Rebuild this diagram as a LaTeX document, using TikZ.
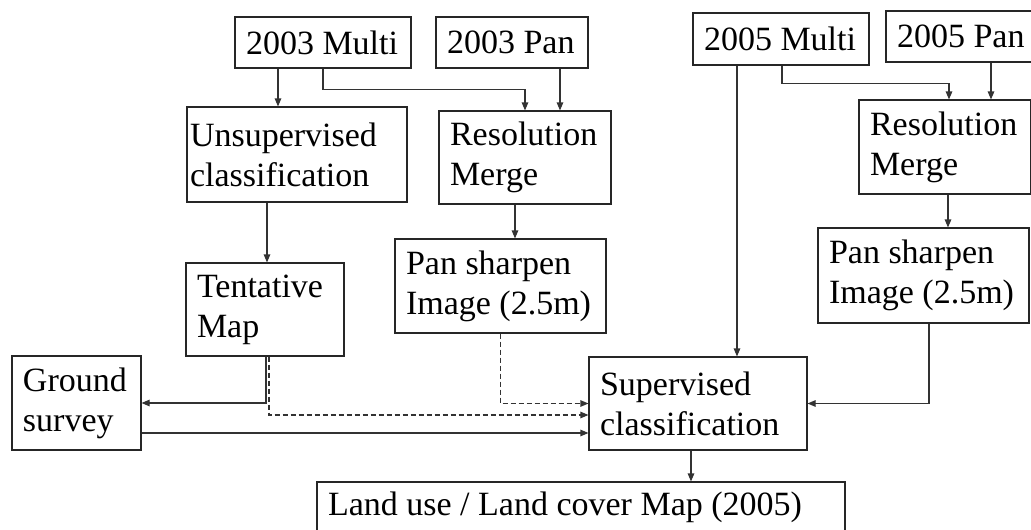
\documentclass[tikz,border=0pt]{standalone}
\usepackage{fontspec}
\setmainfont{Liberation Serif}
\usetikzlibrary{arrows.meta}
\begin{document}
\begin{tikzpicture}[x=1pt,y=-1pt,
  box/.style={draw=black!85, line width=1.1pt, inner xsep=11pt, inner ysep=0pt,
    align=flush left, font=\fontsize{34}{40}\selectfont, anchor=center},
  arr/.style={draw=black!80, line width=1.1pt, -{Triangle[length=8pt,width=6.5pt]}},
  dsh/.style={dash pattern=on 5pt off 3pt}]
\useasboundingbox (0,0) rectangle (1031,530);
\clip (0,0) rectangle (1031,530);
\fill[white] (0,0) rectangle (1031,530);
% nodes
\node[box, minimum width=176pt, minimum height=51pt, text width=154pt] (m03) at (323,42.5) {2003 Multi};
\node[box, minimum width=152pt, minimum height=51pt, text width=130pt] (p03) at (512,42.5) {2003 Pan};
\node[box, inner xsep=3pt, minimum width=220pt, minimum height=95pt, text width=214pt] (uns) at (297,154.5) {Unsupervised\\classification};
\node[box, minimum width=172pt, minimum height=93pt, text width=150pt] (rm03) at (525,157.5) {Resolution\\Merge};
\node[box, minimum width=211pt, minimum height=94pt, text width=189pt] (ps03) at (500.5,286) {Pan sharpen\\Image (2.5m)};
\node[box, minimum width=158pt, minimum height=93pt, text width=136pt] (tent) at (265,309.5) {Tentative\\Map};
\node[box, minimum width=129pt, minimum height=94pt, text width=107pt] (gs) at (76.5,403) {Ground\\survey};
\node[box, minimum width=218pt, minimum height=93pt, text width=196pt] (sup) at (698,403.5) {Supervised\\classification};
\node[box, minimum width=528pt, minimum height=51pt, text width=506pt] (lu) at (581,507.5) {Land use / Land cover Map (2005)};
\node[box, minimum width=176pt, minimum height=52pt, text width=154pt] (m05) at (781,39) {2005 Multi};
\node[box, minimum width=152pt, minimum height=51pt, text width=130pt] (p05) at (962,36.5) {2005 Pan};
\node[box, minimum width=172pt, minimum height=94pt, text width=150pt] (rm05) at (945,147) {Resolution\\Merge};
\node[box, minimum width=211pt, minimum height=95pt, text width=189pt] (ps05) at (923.5,275.5) {Pan sharpen\\Image (2.5m)};
% connectors
\draw[arr] ([xshift=-45pt]m03.south) -- ([xshift=-19pt]uns.north);
\draw[arr] (m03.south) -- ++(0,21) -| (rm03.north);
\draw[arr] ([xshift=48pt]p03.south) -- ([xshift=35pt]rm03.north);
\draw[arr] ([xshift=-30pt]uns.south) -- ([xshift=2pt]tent.north);
\draw[arr] ([xshift=-10pt]rm03.south) -- ([xshift=14.5pt]ps03.north);
\draw[arr] ([xshift=1pt]tent.south) |- (gs.east);
\draw[arr,dsh] ([xshift=4pt]tent.south) |- ([yshift=-11.5pt]sup.west);
\draw[arr,dsh] (ps03.south) |- (sup.west);
\draw[arr] ([yshift=-30pt]gs.east) -- ([yshift=-29.5pt]sup.west);
\draw[arr] ([xshift=-44pt]m05.south) -- ([xshift=39pt]sup.north);
\draw[arr] ([xshift=1pt]m05.south) -- ++(0,18) -| ([xshift=4pt]rm05.north);
\draw[arr] ([xshift=29pt]p05.south) -- ([xshift=46pt]rm05.north);
\draw[arr] ([xshift=3pt]rm05.south) -- ([xshift=24.5pt]ps05.north);
\draw[arr] ([xshift=5.5pt]ps05.south) |- (sup.east);
\draw[arr] ([xshift=-7pt]sup.south) -- ([xshift=110pt]lu.north);
\end{tikzpicture}
\end{document}
